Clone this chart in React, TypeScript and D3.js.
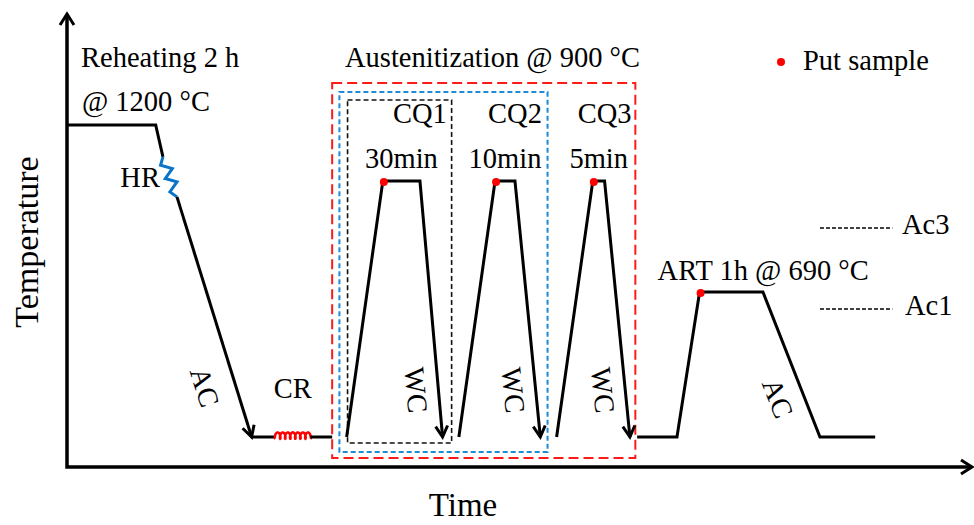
import * as d3 from 'd3';

// temperature levels (°C, schematic)
const T_ZERO = 0;
const T_ROOM = 25;
const T_ART = 690;
const T_AC1 = 612;
const T_AC3 = 811;
const T_AUST = 900;
const T_REHEAT = 1200;
const T_TOP = 1500;

// time in schematic units along the axis (0 – 100)
const reheatPath: [number, number][] = [[0, T_REHEAT], [9.8, T_REHEAT], [10.6, 1029]];
const hrZigzag: [number, number][] = [[10.6, 1029], [12.15, 870]];
const acPath: [number, number][] = [[12.15, 870], [20.4, T_ROOM]];
const crLead: [number, number][] = [[20.4, T_ROOM], [23.0, T_ROOM]];
const crCoil: [number, number][] = [[23.0, T_ROOM], [26.9, T_ROOM]];
const crTail: [number, number][] = [[26.9, T_ROOM], [29.3, T_ROOM]];

const cqLabels = ['CQ1', 'CQ2', 'CQ3'];
const cqHoldLabels = ['30min', '10min', '5min'];
const cqRiseStart = [30.9, 43.3, 54.1];
const cqHoldStart = [34.9, 47.3, 58.1];
const cqHoldEnd = [39.0, 49.5, 59.4];
const cqQuenchEnd = [41.5, 52.3, 62.2];

const artPath: [number, number][] = [
  [63.0, T_ROOM], [67.4, T_ROOM], [69.9, T_ART], [76.9, T_ART], [83.2, T_ROOM], [89.3, T_ROOM],
];
const acLevelSpan = [83.2, 91.2];

// dashed group boxes: [t start, t end]
const boxRed = [29.3, 62.8];
const boxBlue = [30.1, 53.1];
const boxBlack = [31.0, 42.5];

const W = 974;
const H = 525;
const FONT = '"Liberation Serif", "Times New Roman", serif';
const FS = 28.5;

const x = d3.scaleLinear().domain([0, 100]).range([67, 972]);
const y = d3.scaleLinear()
  .domain([T_ZERO, T_ROOM, T_ART, T_AUST, T_REHEAT, T_TOP])
  .range([467, 437, 292, 181, 125, 14]);

const px = (p: [number, number]): [number, number] => [x(p[0]), y(p[1])];
const line = d3.line<[number, number]>();

// open chevron arrowhead at tip, pointing away from `from`
function chevron(from: [number, number], tip: [number, number], len = 11, half = 6) {
  const dx = tip[0] - from[0];
  const dy = tip[1] - from[1];
  const d = Math.hypot(dx, dy);
  const ux = dx / d, uy = dy / d;
  const bx = tip[0] - ux * len, by = tip[1] - uy * len;
  return line([
    [bx - uy * half, by + ux * half],
    tip,
    [bx + uy * half, by - ux * half],
  ]);
}

function zigzag(a: [number, number], b: [number, number], teeth: number, amp: number) {
  const dx = b[0] - a[0], dy = b[1] - a[1];
  const d = Math.hypot(dx, dy);
  const nx = -dy / d, ny = dx / d;
  const pts: [number, number][] = [a];
  for (let i = 1; i < teeth * 2; i++) {
    const s = i / (teeth * 2);
    const k = i % 2 ? amp : -amp;
    pts.push([a[0] + dx * s + nx * k, a[1] + dy * s + ny * k]);
  }
  pts.push(b);
  return line(pts);
}

function coil(a: [number, number], b: [number, number], turns: number) {
  const L = b[0] - a[0];
  const pts: [number, number][] = [];
  const n = 160;
  for (let i = 0; i <= n; i++) {
    const s = i / n;
    const th = 2 * Math.PI * turns * s;
    pts.push([a[0] + L * s - 1.3 * Math.sin(th), a[1] - 3.2 * (1 - Math.cos(th)) + 1.8]);
  }
  return line(pts);
}

const angle = (a: [number, number], b: [number, number]) =>
  (Math.atan2(y(b[1]) - y(a[1]), x(b[0]) - x(a[0])) * 180) / Math.PI;

export default function App() {
  const stroke = '#000';
  const sw = 3;

  const cq = cqLabels.map((label, i) => {
    const p0: [number, number] = [cqRiseStart[i], T_ROOM];
    const p1: [number, number] = [cqHoldStart[i], T_AUST];
    const p2: [number, number] = [cqHoldEnd[i], T_AUST];
    const p3: [number, number] = [cqQuenchEnd[i], T_ROOM];
    const wcY = 390;
    const frac = (wcY - y(T_AUST)) / (y(T_ROOM) - y(T_AUST));
    const wcX = x(p2[0]) + (x(p3[0]) - x(p2[0])) * frac - 22;
    return (
      <g key={label}>
        <path d={line([p0, p1, p2, p3].map(px)) ?? ''} fill="none" stroke={stroke} strokeWidth={sw} strokeLinejoin="miter" />
        <path d={chevron(px(p2), px(p3)) ?? ''} fill="none" stroke={stroke} strokeWidth={sw} />
        <circle cx={x(p1[0]) + 1} cy={y(p1[1]) + 1} r={4} fill="#ff0000" />
        <text x={x(p2[0])} y={123} textAnchor="middle">{label}</text>
        <text x={(x(p1[0]) + x(p2[0])) / 2} y={168} textAnchor="middle">{cqHoldLabels[i]}</text>
        <text
          transform={`translate(${wcX},${wcY}) rotate(${angle(p2, p3)})`}
          textAnchor="middle"
          dy="0.35em"
        >WC</text>
      </g>
    );
  });

  const acMid: [number, number] = [205, 387];
  const art = artPath.map(px);
  const ac2Angle = angle(artPath[3], artPath[4]);

  return (
    <svg width={W} height={H} style={{ position: 'absolute', left: 0, top: 0, background: '#fff' }}
      fontFamily={FONT} fontSize={FS} fill="#000">
      {/* axes */}
      <path d={line([[x(0), y(T_TOP)], [x(0), y(T_ZERO)], [x(100), y(T_ZERO)]]) ?? ''}
        fill="none" stroke={stroke} strokeWidth={3.5} />
      <path d={chevron([x(0), y(T_ZERO)], [x(0), y(T_TOP)], 11, 7) ?? ''} fill="none" stroke={stroke} strokeWidth={3} />
      <path d={chevron([x(0), y(T_ZERO)], [x(100), y(T_ZERO)], 11, 7) ?? ''} fill="none" stroke={stroke} strokeWidth={3} />
      <text x={463} y={516} textAnchor="middle" fontSize={33}>Time</text>
      <text transform={`translate(38,242) rotate(-90)`} textAnchor="middle" fontSize={34}>Temperature</text>

      {/* dashed boxes */}
      <rect x={x(boxRed[0])} y={83} width={x(boxRed[1]) - x(boxRed[0])} height={375}
        fill="none" stroke="#ff1a1a" strokeWidth={2} strokeDasharray="10 5" />
      <rect x={x(boxBlue[0])} y={92} width={x(boxBlue[1]) - x(boxBlue[0])} height={360}
        fill="none" stroke="#1f8ad6" strokeWidth={2} strokeDasharray="5 3" />
      <rect x={x(boxBlack[0])} y={100} width={x(boxBlack[1]) - x(boxBlack[0])} height={343}
        fill="none" stroke="#111" strokeWidth={1.6} strokeDasharray="5 3" />

      {/* reheating + hot rolling + air cooling */}
      <path d={line(reheatPath.map(px)) ?? ''} fill="none" stroke={stroke} strokeWidth={sw} />
      <path d={zigzag(px(hrZigzag[0]), px(hrZigzag[1]), 3, 5) ?? ''} fill="none" stroke="#0a74c9" strokeWidth={3} />
      <path d={line(acPath.map(px)) ?? ''} fill="none" stroke={stroke} strokeWidth={sw} />
      <path d={chevron(px(acPath[0]), px(acPath[1])) ?? ''} fill="none" stroke={stroke} strokeWidth={sw} />
      <path d={line(crLead.map(px)) ?? ''} fill="none" stroke={stroke} strokeWidth={sw} />
      <path d={coil(px(crCoil[0]), px(crCoil[1]), 7) ?? ''} fill="none" stroke="#ff0000" strokeWidth={2.5} />
      <path d={line(crTail.map(px)) ?? ''} fill="none" stroke={stroke} strokeWidth={sw} />

      <text x={x(0) + 14} y={67}>Reheating 2 h</text>
      <text x={x(0) + 15} y={111}>@ 1200 °C</text>
      <text x={px(hrZigzag[0])[0] - 3} y={187} textAnchor="end">HR</text>
      <text transform={`translate(${acMid[0]},${acMid[1]}) rotate(${angle(acPath[0], acPath[1])})`}
        textAnchor="middle" dy="0.35em">AC</text>
      <text x={(x(crCoil[0][0]) + x(crCoil[1][0])) / 2} y={398} textAnchor="middle">CR</text>

      {/* austenitization cycles */}
      <text x={345} y={67}>Austenitization @ 900 °C</text>
      {cq}

      {/* ART */}
      <path d={line(art) ?? ''} fill="none" stroke={stroke} strokeWidth={sw} />
      <circle cx={art[2][0] + 1} cy={art[2][1] + 1} r={4} fill="#ff0000" />
      <text x={art[2][0] - 42} y={280}>ART 1h @ 690 °C</text>
      <text transform={`translate(778,398) rotate(${ac2Angle})`} textAnchor="middle" dy="0.35em">AC</text>

      {/* Ac3 / Ac1 */}
      <line x1={x(acLevelSpan[0])} x2={x(acLevelSpan[1])} y1={y(T_AC3)} y2={y(T_AC3)}
        stroke="#000" strokeWidth={1.5} strokeDasharray="4 2" />
      <text x={902} y={y(T_AC3) + 6}>Ac3</text>
      <line x1={x(acLevelSpan[0])} x2={x(acLevelSpan[1])} y1={y(T_AC1)} y2={y(T_AC1)}
        stroke="#000" strokeWidth={1.5} strokeDasharray="4 2" />
      <text x={905} y={y(T_AC1) + 6}>Ac1</text>

      {/* legend */}
      <circle cx={781} cy={62} r={4} fill="#ff0000" />
      <text x={803} y={70}>Put sample</text>
    </svg>
  );
}
